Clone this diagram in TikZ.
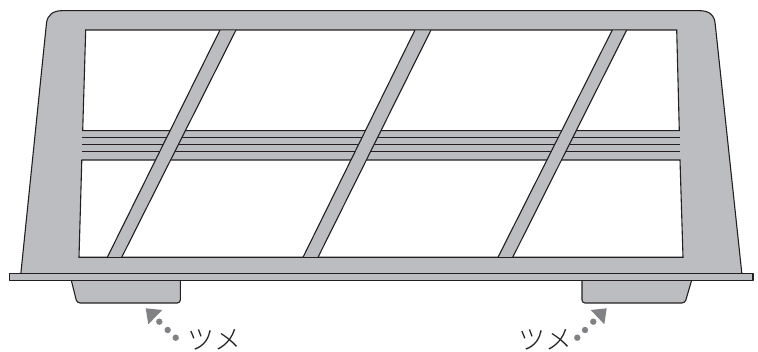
\documentclass[tikz,border=0pt]{standalone}
\usepackage{fontspec}
\newfontfamily\jpfont{Noto Sans CJK JP Light}
\definecolor{partgray}{HTML}{BCBDC0}
\definecolor{inkdark}{HTML}{231F20}
\definecolor{markgray}{HTML}{808285}
\tikzset{
  part/.style={fill=partgray,draw=inkdark,line width=1.1pt,line join=round},
  edge/.style={draw=inkdark,line width=1.1pt},
  rule/.style={draw=inkdark,line width=1pt},
  dotmark/.style={fill=markgray,draw=none},
  label/.style={font=\jpfont\fontsize{27}{27}\selectfont,text=inkdark,inner sep=0pt,anchor=center}
}
\begin{document}
\begin{tikzpicture}[x=1pt,y=-1pt]
\useasboundingbox (0,0) rectangle (758,352);
% feet
\draw[part,rounded corners=3pt] (70.7,278) -- (77,303) -- (180.3,303) -- (180.3,278);
\draw[part,rounded corners=3pt] (582,278) -- (582,303) -- (685,303) -- (692.3,278);
% frame with windows
\path[fill=partgray,even odd rule]
  (20.7,275) -- (46.5,23) .. controls (47.5,15) and (53,10.7) .. (62,10.7) -- (700,10.7) .. controls (709,10.7) and (714.5,15) .. (715.2,24) -- (742,275) -- cycle
  (85.7,30) -- (676.7,30) -- (679.3,130.7) -- (82.7,130.7) -- cycle
  (81.8,160) -- (680,160) -- (683,257.3) -- (79,257.3) -- cycle;
\draw[edge] (20.7,275) -- (46.5,23) .. controls (47.5,15) and (53,10.7) .. (62,10.7) -- (700,10.7) .. controls (709,10.7) and (714.5,15) .. (715.2,24) -- (742,275);
\draw[edge] (85.7,30) -- (676.7,30) -- (679.3,130.7) -- (82.7,130.7) -- cycle;
\draw[edge] (81.8,160) -- (680,160) -- (683,257.3) -- (79,257.3) -- cycle;
% rails
\draw[rule] (82.4,137.4) -- (679.5,137.4);
\draw[rule] (82.2,144.3) -- (679.7,144.3);
\draw[rule] (82,151.3) -- (679.9,151.3);
% struts
\foreach \a/\b/\c/\d in {220/236/107.3/121.7, 415/431/303/318, 612.3/626.7/498/512.7}{
  \fill[partgray] (\a,30.6) -- (\b,30.6) -- (\d,256.7) -- (\c,256.7) -- cycle;
  \draw[edge] (\a,30) -- (\c,257.3);
  \draw[edge] (\b,30) -- (\d,257.3);
}
% base plate
\draw[part] (9.3,273.7) rectangle (753,280.3);
% arrow marks
\fill[markgray] (145.7,308.3) -- (162.3,310) -- (148.3,324.3) -- cycle;
\fill[dotmark] (159.3,321.7) circle (3.2);
\fill[dotmark] (167.7,330) circle (3.2);
\fill[dotmark] (175.7,337.7) circle (3.2);
\fill[markgray] (606.7,308.3) -- (590.7,310) -- (604.3,324.3) -- cycle;
\fill[dotmark] (593.3,321.7) circle (3.2);
\fill[dotmark] (585,330) circle (3.2);
\fill[dotmark] (577.3,337.7) circle (3.2);
% labels
\node[label] (tsumeL) at (214,340) {ツメ};
\node[label] (tsumeR) at (545,340) {ツメ};
\end{tikzpicture}
\end{document}
